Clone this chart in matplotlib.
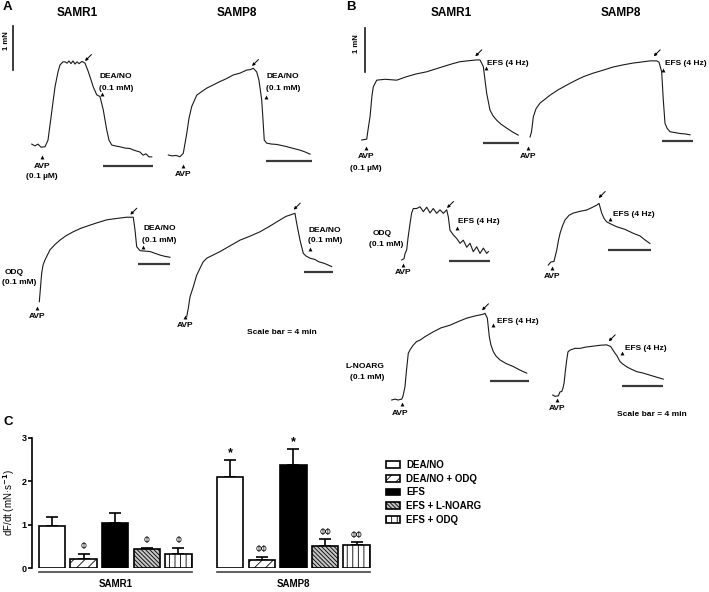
import numpy as np
import matplotlib.pyplot as plt
from matplotlib.patches import Patch
from matplotlib.transforms import Affine2D

plt.rcParams.update({
    'font.family': ['Liberation Sans', 'DejaVu Sans'],
    'font.weight': 'bold',
    'axes.linewidth': 1.2,
    'hatch.linewidth': 0.6,
})

# ---------------- panel C: dF/dt (mN/s) ----------------
groups = ['SAMR1', 'SAMP8']
treatments = ['DEA/NO', 'DEA/NO + ODQ', 'EFS', 'EFS + L-NOARG', 'EFS + ODQ']
samr1_mean = [0.97, 0.21, 1.03, 0.44, 0.33]
samr1_sem = [0.21, 0.12, 0.23, 0.02, 0.14]
samp8_mean = [2.09, 0.19, 2.36, 0.51, 0.53]
samp8_sem = [0.39, 0.07, 0.39, 0.15, 0.06]
samr1_marks = ['', 'Φ', '', 'Φ', 'Φ']
samp8_marks = ['*', 'ΦΦ', '*', 'ΦΦ', 'ΦΦ']

# ---------------- force traces: time (min), force (mN above baseline) ----------------
t_a1 = [0.14, 0.40, 0.64, 0.88, 1.20, 1.44, 1.76, 2.00, 2.24, 2.40, 2.64, 2.80, 2.96, 3.12, 3.28, 3.44,
        3.60, 3.76, 3.92, 4.16, 4.40, 4.66, 4.88, 5.06, 5.34, 5.60, 5.86, 6.14, 6.32, 6.54, 6.80, 7.20,
        7.60, 8.00, 8.24, 8.56, 8.80, 9.04, 9.28, 9.52, 9.74]
f_a1 = [0.02, -0.02, 0.02, -0.05, -0.04, 0.11, 0.80, 1.32, 1.66, 1.82, 1.89, 1.89, 1.86, 1.91, 1.85, 1.91,
        1.84, 1.89, 1.85, 1.90, 1.86, 1.67, 1.48, 1.32, 1.14, 1.10, 0.80, 0.34, 0.11, 0.00, -0.02, -0.04,
        -0.07, -0.08, -0.11, -0.14, -0.16, -0.23, -0.20, -0.27, -0.27]
t_a2 = [0.03, 0.35, 0.70, 1.04, 1.33, 1.63, 1.83, 2.06, 2.50, 2.87, 3.37, 3.91, 4.52, 5.04, 5.68, 6.26,
        6.84, 7.13, 7.42, 7.71, 7.91, 8.15, 8.26, 8.37, 8.58, 8.96, 9.45, 10.17, 10.90, 11.48, 11.91, 12.35]
f_a2 = [0.00, -0.02, -0.01, -0.04, 0.04, 0.49, 0.84, 1.10, 1.36, 1.43, 1.52, 1.59, 1.67, 1.73, 1.82, 1.86,
        1.93, 1.94, 1.97, 1.89, 1.70, 1.25, 0.80, 0.34, 0.27, 0.25, 0.24, 0.20, 0.15, 0.11, 0.07, 0.02]
t_b1 = [0, 0.55, 0.69, 0.91, 1.13, 1.27, 1.64, 2.55, 3.83, 4.92, 5.93, 7.10, 8.01, 8.92, 9.87, 10.74,
        11.62, 12.57, 12.93, 13.29, 13.66, 14.02, 14.35, 14.75, 15.22, 15.85, 16.43, 17.11]
f_b1 = [0, 0.02, 0.23, 0.53, 1.02, 1.21, 1.36, 1.38, 1.36, 1.44, 1.50, 1.55, 1.61, 1.67, 1.73, 1.78,
        1.80, 1.82, 1.82, 1.67, 1.06, 0.68, 0.55, 0.45, 0.36, 0.27, 0.19, 0.11]
t_b2 = [0, 0.19, 0.43, 0.77, 1.29, 1.94, 2.58, 3.61, 4.74, 5.81, 6.88, 8.13, 9.46, 10.71, 12.04, 13.29,
        14.62, 15.48, 16.35, 16.65, 16.99, 17.20, 17.42, 17.68, 18.06, 18.71, 19.35, 20.00, 20.65]
f_b2 = [0, 0.11, 0.46, 0.64, 0.77, 0.86, 0.95, 1.07, 1.18, 1.28, 1.37, 1.45, 1.52, 1.59, 1.64, 1.68,
        1.71, 1.73, 1.73, 1.70, 1.48, 0.84, 0.31, 0.20, 0.12, 0.10, 0.08, 0.07, 0.05]
t_a3 = [0, 0.09, 0.30, 0.47, 0.72, 1.35, 1.98, 2.61, 3.37, 4.29, 5.26, 6.39, 7.40, 8.50, 9.67, 11.02,
        11.85, 12.07, 12.28, 12.70, 13.33, 13.96, 14.59, 15.22, 15.85, 16.48]
f_a3 = [0, 0.19, 0.65, 0.83, 0.95, 1.18, 1.30, 1.40, 1.50, 1.59, 1.67, 1.74, 1.80, 1.86, 1.89, 1.92,
        1.92, 1.63, 1.25, 1.16, 1.15, 1.14, 1.10, 1.06, 1.03, 1.01]
t_a4 = [0, 0.22, 0.46, 0.92, 1.36, 1.85, 2.27, 2.79, 3.66, 4.64, 6.03, 7.42, 8.82, 10.21, 11.60, 13.00,
        13.83, 14.39, 15.08, 15.32, 15.78, 16.24, 16.62, 17.17, 17.87, 18.37, 19.20, 20.19]
f_a4 = [0, 0.19, 0.45, 0.68, 0.93, 1.10, 1.24, 1.33, 1.40, 1.48, 1.61, 1.74, 1.83, 1.93, 2.06, 2.20,
        2.28, 2.31, 2.35, 2.12, 1.74, 1.44, 1.38, 1.33, 1.30, 1.25, 1.21, 1.14]
t_b3 = [0, 0.23, 0.32, 0.49, 0.62, 0.82, 0.98, 1.14, 1.47, 1.80, 2.12, 2.46, 2.78, 3.10, 3.44, 3.76,
        4.09, 4.42, 4.58, 4.74, 5.07, 5.40, 5.73, 6.05, 6.39, 6.71, 7.03, 7.37, 7.69, 8.02, 8.35, 8.51]
f_b3 = [0, 0.03, 0.14, 0.23, 0.50, 0.83, 1.07, 1.17, 1.17, 1.21, 1.10, 1.20, 1.07, 1.17, 1.06, 1.14,
        1.06, 1.14, 0.98, 0.68, 0.57, 0.49, 0.38, 0.45, 0.29, 0.38, 0.19, 0.30, 0.15, 0.27, 0.15, 0.19]
t_b4 = [0, 0.25, 0.53, 0.79, 0.96, 1.10, 1.33, 1.56, 1.94, 2.34, 2.97, 3.60, 4.04, 4.53, 4.75, 5.00,
        5.22, 5.47, 5.87, 6.40, 7.18, 7.96, 8.59, 9.05, 9.52]
f_b4 = [0, 0.07, 0.08, 0.34, 0.57, 0.72, 0.89, 1.02, 1.13, 1.18, 1.22, 1.25, 1.30, 1.36, 1.40, 1.18,
        1.06, 0.98, 0.93, 0.87, 0.81, 0.72, 0.66, 0.57, 0.49]
t_b5 = [0, 0.34, 0.65, 1.03, 1.16, 1.36, 1.52, 1.70, 1.88, 2.18, 2.56, 2.90, 3.42, 4.27, 5.06, 5.98,
        6.80, 7.69, 8.54, 9.39, 9.57, 9.81, 10.01, 10.18, 10.42, 10.69, 11.11, 11.72, 12.47, 13.16, 13.85]
f_b5 = [0, 0.02, 0, 0.02, 0.09, 0.30, 0.68, 1.06, 1.14, 1.24, 1.33, 1.36, 1.44, 1.55, 1.64, 1.70,
        1.78, 1.86, 1.91, 1.95, 1.97, 1.86, 1.44, 1.25, 1.10, 1.00, 0.91, 0.83, 0.76, 0.68, 0.61]
t_b6 = [0, 0.22, 0.54, 0.70, 0.87, 0.99, 1.09, 1.23, 1.35, 1.47, 1.66, 2.14, 2.63, 3.20, 3.90, 4.55,
        5.19, 5.58, 5.80, 5.99, 6.18, 6.47, 6.76, 7.12, 7.53, 8.08, 8.68, 9.36, 9.93, 10.63]
f_b6 = [0, -0.03, -0.02, 0.07, 0.08, 0.16, 0.27, 0.57, 0.80, 0.98, 1.02, 1.06, 1.06, 1.09, 1.11, 1.13,
        1.14, 1.10, 1.02, 0.95, 0.89, 0.76, 0.70, 0.64, 0.59, 0.53, 0.50, 0.45, 0.41, 0.36]

# 4-min scale bar: start time, level (mN)
bar_a = [(5.82, -0.47), (8.50, -0.13), (12.48, 0.85), (16.34, 1.02)]
bar_b = [(13.22, -0.06), (16.99, -0.08), (4.68, -0.02), (5.62, 0.33), (10.08, 0.44), (6.63, 0.21)]

fig = plt.figure(figsize=(7.09, 5.92), dpi=100)

# overlay in pixel units for the trace panels
ov = fig.add_axes([0, 0, 1, 1])
ov.set_xlim(0, 709)
ov.set_ylim(592, 0)
ov.axis('off')

MN_PX = 44.0  # 1 mN in pixels


def trace(t, f, x0, y0, ppm, bar):
    tr = Affine2D().scale(ppm, -MN_PX).translate(x0, y0) + ov.transData
    ov.plot(t, f, color='#1a1a1a', lw=0.8, transform=tr)
    ov.plot([bar[0], bar[0] + 4], [bar[1], bar[1]], color='#3a3a3a', lw=1.6,
            solid_capstyle='butt', transform=tr)


trace(t_a1, f_a1, 30, 145, 12.5, bar_a[0])
trace(t_a2, f_a2, 168, 155, 11.5, bar_a[1])
trace(t_a3, f_a3, 39.3, 301.7, 7.93, bar_a[2])
trace(t_a4, f_a4, 186.7, 316.7, 7.18, bar_a[3])
trace(t_b1, f_b1, 361.7, 140, 9.15, bar_b[0])
trace(t_b2, f_b2, 530, 137, 7.75, bar_b[1])
trace(t_b3, f_b3, 401.7, 260, 10.18, bar_b[2])
trace(t_b4, f_b4, 548.3, 265, 10.68, bar_b[3])
trace(t_b5, f_b5, 391.7, 400, 9.75, bar_b[4])
trace(t_b6, f_b6, 552.7, 395, 10.4, bar_b[5])

# 1 mN vertical scale bars
for x0, y0 in [(13.3, 70), (365, 72)]:
    tr = Affine2D().scale(1, -MN_PX).translate(x0, y0) + ov.transData
    ov.plot([0, 0], [0, 1], color='#1a1a1a', lw=1.2, transform=tr)
ov.text(6, 41, '1 mN', rotation=90, ha='center', va='center', fontsize=5.5)
ov.text(357, 44, '1 mN', rotation=90, ha='center', va='center', fontsize=5.5)

# panel letters and titles
for s, x, y in [('A', 7.5, 7), ('B', 351, 7), ('C', 8, 422)]:
    ov.text(x, y, s, ha='center', va='center', fontsize=9.5)
for s, x, y in [('SAMR1', 77, 13), ('SAMP8', 237, 13), ('SAMR1', 451.7, 13), ('SAMP8', 621, 13)]:
    ov.text(x, y, s, ha='center', va='center', fontsize=8.5)

fs = 6


def arrow(x, y):
    ov.annotate('', xy=(x - 3, y + 3), xytext=(x + 3.5, y - 3.5),
                arrowprops=dict(arrowstyle='-|>', lw=0.7, color='k', mutation_scale=4,
                                shrinkA=0, shrinkB=0))


def tri(x, y):
    ov.plot(x, y, marker='^', ms=2.8, color='k', mec='k', mew=0)


def label(x, y, s, ha='center'):
    ov.text(x, y, s, ha=ha, va='center', fontsize=fs)


# A, top row
arrow(88, 58); tri(102, 94); label(100, 77, 'DEA/NO', 'left'); label(99, 88, '(0.1 mM)', 'left')
tri(41.7, 156.7); label(41.7, 166, 'AVP'); label(41.7, 177, '(0.1 µM)')
arrow(255, 63); tri(265.7, 96.7); label(266.7, 77, 'DEA/NO', 'left'); label(266, 88, '(0.1 mM)', 'left')
tri(182.7, 165.7); label(182.7, 174, 'AVP')
# A, second row
arrow(133.3, 211.7); tri(142.7, 246.7)
label(143.3, 228.3, 'DEA/NO', 'left'); label(142.5, 240, '(0.1 mM)', 'left')
label(14, 272.3, 'ODQ'); label(19, 283, '(0.1 mM)')
tri(37.3, 307.7); label(37.3, 316, 'AVP')
arrow(296.7, 206.7); tri(310, 249.3)
label(308.3, 230, 'DEA/NO', 'left'); label(307.5, 241, '(0.1 mM)', 'left')
tri(185, 316.7); label(185, 325.7, 'AVP')
label(282, 332.3, 'Scale bar = 4 min')
# B, top row
arrow(478.3, 53.3); tri(486, 68.3); label(487, 63.3, 'EFS (4 Hz)', 'left')
tri(365.7, 148.3); label(365.7, 156.7, 'AVP'); label(365.7, 168, '(0.1 µM)')
arrow(656.7, 53.3); tri(663.3, 70); label(665, 63.3, 'EFS (4 Hz)', 'left')
tri(528.3, 148.3); label(528.3, 156, 'AVP')
# B, second row
arrow(450, 205); tri(457.3, 227.7); label(458.3, 221.7, 'EFS (4 Hz)', 'left')
label(381.7, 233.3, 'ODQ'); label(386.3, 244.3, '(0.1 mM)')
tri(403.3, 265); label(403.3, 272.3, 'AVP')
arrow(601.7, 195); tri(610, 219.3); label(613.3, 214.3, 'EFS (4 Hz)', 'left')
tri(551.7, 268.3); label(551.7, 276.7, 'AVP')
# B, third row
arrow(485, 307.3); tri(493.3, 325); label(496.7, 321.7, 'EFS (4 Hz)', 'left')
label(384, 366.7, 'L-NOARG', 'right'); label(384, 377.3, '(0.1 mM)', 'right')
tri(401.7, 404); label(400, 413.3, 'AVP')
arrow(611.7, 338.3); tri(621.7, 353.3); label(625, 349, 'EFS (4 Hz)', 'left')
tri(557.3, 400); label(557.3, 408.3, 'AVP')
label(651.7, 414.3, 'Scale bar = 4 min')

# ---------------- panel C bar chart ----------------
ax = fig.add_axes([32 / 709, 24 / 592, 342 / 709, 130.3 / 592])
faces = ['white', 'white', 'black', '#c4c4c4', 'white']
hatches = [None, '///', None, '\\\\\\\\\\\\\\\\', '|||']
width = 0.84
group_off = [0, 5.64]
for g, (mean, sem, marks) in enumerate([(samr1_mean, samr1_sem, samr1_marks),
                                        (samp8_mean, samp8_sem, samp8_marks)]):
    pos = np.arange(5) + group_off[g]
    for i in range(5):
        ax.bar(pos[i], mean[i], width, color=faces[i], edgecolor='black', linewidth=1.2,
               hatch=hatches[i], zorder=2)
    ax.errorbar(pos, mean, yerr=[np.zeros(5), sem], fmt='none', ecolor='black',
                elinewidth=1.2, capsize=4.5, capthick=1.2, zorder=1)
    for i in range(5):
        if marks[i]:
            top = mean[i] + sem[i]
            if marks[i] == '*':
                ax.text(pos[i], top + 0.02, marks[i], ha='center', va='bottom', fontsize=9)
            else:
                ax.text(pos[i], top + 0.06, marks[i], ha='center', va='bottom', fontsize=5.5,
                        family=['DejaVu Sans'], fontweight='normal')
    ax.plot([pos[0] - 0.42, pos[-1] + 0.42], [-0.1, -0.1], color='#444444', lw=1.2,
            clip_on=False)
    ax.text(pos[2], -0.37, groups[g], ha='center', va='center', fontsize=7)

ax.set_xlim(-0.633, 10.19)
ax.set_ylim(0, 3)
ax.set_yticks([0, 1, 2, 3])
ax.set_xticks([])
ax.tick_params(axis='y', length=3, width=1.2, labelsize=6.5, pad=1)
for s in ['top', 'right', 'bottom']:
    ax.spines[s].set_visible(False)
ax.set_ylabel('dF/dt (mN·s$^{\\mathbf{-1}}$)', fontsize=7)
ax.yaxis.set_label_coords(-0.045, 0.5)
ax.patch.set_visible(False)

handles = [Patch(facecolor=faces[i], edgecolor='black', hatch=hatches[i], linewidth=1.2)
           for i in range(5)]
fig.legend(handles, treatments, loc='upper left', bbox_to_anchor=(386 / 709, 1 - 460 / 592),
           frameon=False, fontsize=7, handlelength=1.45, handleheight=0.7,
           labelspacing=0.38, handletextpad=0.6, borderpad=0, borderaxespad=0)

fig.savefig('out.png', dpi=100)
